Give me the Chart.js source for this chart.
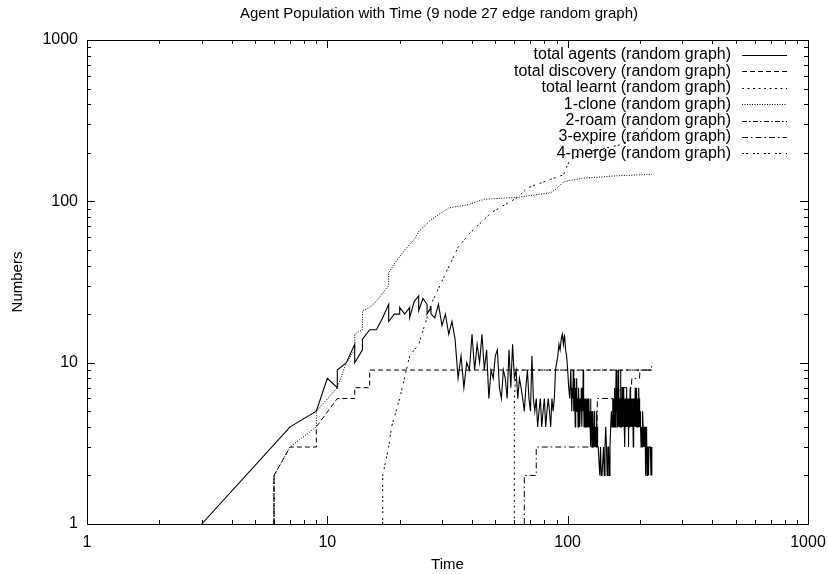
<!DOCTYPE html>
<html>
<head>
<meta charset="utf-8">
<script src="https://cdn.jsdelivr.net/npm/chart.js@4.4.1/dist/chart.umd.min.js"></script>
<style>
  html, body { margin: 0; padding: 0; background: #fff; }
  canvas { display: block; }
</style>
</head>
<body>
<canvas id="agentChart" width="827" height="574"></canvas>
<script>
// values (log-log, time vs numbers)
// total agents, in blocks (finer time steps where the trace is dense)
const agentEarlyT = [3, 7, 9, 10, 11, 11, 12, 13, 13, 14, 14, 15, 16, 17, 18, 18, 19, 20, 20, 21, 22, 22, 23, 24, 24, 25, 26, 26, 27, 27, 28, 29, 30, 31, 32, 33, 34];
const agentEarlyN = [1, 4, 5, 8, 7, 9, 10, 13, 10, 12, 14, 16, 16, 19, 23, 18, 20, 20, 22, 20, 22, 19, 24, 26, 21, 25, 23, 20, 22, 20, 19, 23, 17, 20, 15, 18, 14];

const agentMidT = [35, 36, 37, 38, 39, 40, 41, 42, 43, 44, 45, 46, 47, 48, 49, 50, 51, 52, 53, 54, 55, 56, 57, 58, 59, 60, 61, 62, 63, 64,
  65, 66, 67, 68, 69, 70, 71, 72, 73, 74, 75, 76, 77, 78, 79, 80, 81, 82, 83, 84, 85, 86, 87, 88, 89, 90, 91, 92, 93, 94,
  95, 96, 97, 98, 99, 100, 101, 102, 103];
const agentMidN = [8, 11, 7, 10, 9, 15, 9, 13, 10, 15, 9, 12, 6, 9, 8, 11, 12, 7, 6, 9, 8, 6, 12, 7, 13, 8, 9, 6, 8, 7,
  6, 5, 7, 9, 6, 5, 11, 6, 5, 6, 4, 5, 6, 4, 5, 6, 4, 5, 6, 5, 4, 6, 5, 6, 9, 10, 11, 13, 12, 14,
  15, 13, 15, 12, 11, 9, 7, 6, 9];

const agentLateT = [104, 104.5, 105, 105.5, 106, 106.5, 107, 107.5, 108, 108.5, 109, 109.5, 110, 110.5, 111, 111.5, 112, 112.5, 113, 113.5,
  114, 114.5, 115, 115.5, 116, 116.5, 117, 117.5, 118, 118.5, 119, 119.5, 120, 120.5, 121, 121.5, 122, 122.5, 123, 123.5,
  124, 124.5, 125, 125.5, 126, 126.5, 127, 127.5, 128, 128.5, 129, 129.5, 130, 130.5, 131, 131.5, 132, 132.5, 133, 133.5, 134,
  135, 136, 137, 138, 139, 140, 141, 142, 143, 144, 145, 146, 147, 148, 149, 150, 151, 152, 153, 154];
const agentLateN = [5, 7, 6, 9, 5, 8, 6, 4, 7, 5, 8, 5, 6, 4, 7, 5, 6, 4, 6, 5,
  7, 4, 6, 5, 9, 6, 4, 6, 5, 4, 6, 4, 5, 6, 4, 5, 4, 6, 4, 5,
  4, 6, 3, 5, 4, 3, 5, 3, 4, 3, 5, 3, 4, 3, 4, 3, 5, 3, 4, 3, 3,
  3, 2, 3, 2, 2, 2, 3, 2, 3, 4, 3, 2, 3, 3, 2, 3, 4, 5, 4, 6];

const agentEndT = [155, 155.5, 156, 156.5, 157, 157.5, 158, 158.5, 159, 159.5, 160, 160.5, 161, 161.5, 162, 162.5, 163, 163.5, 164, 164.5,
  165, 165.5, 166, 166.5, 167, 167.5, 168, 168.5, 169, 169.5, 170, 170.5, 171, 171.5, 172, 172.5, 173, 173.5, 174, 174.5,
  175, 175.5, 176, 176.5, 177, 177.5, 178, 178.5, 179, 179.5, 180, 180.5, 181, 181.5, 182, 182.5, 183, 183.5, 184, 184.5,
  185, 185.5, 186, 186.5, 187, 187.5, 188, 188.5, 189, 189.5, 190, 190.5, 191, 191.5, 192, 192.5, 193, 193.5, 194, 194.5,
  195, 195.5, 196, 196.5, 197, 197.5, 198, 198.5, 199, 199.5, 200,
  201, 202, 203, 204, 205, 206, 207, 208, 209, 210, 211, 212, 213, 214, 215, 216, 217, 218, 219, 220, 221, 222, 223, 224];
const agentEndN = [4, 6, 4, 5, 7, 4, 6, 5, 9, 5, 6, 4, 7, 5, 9, 6, 4, 7, 5, 4,
  6, 4, 9, 5, 4, 6, 4, 7, 5, 4, 6, 4, 5, 7, 4, 6, 3, 5, 4, 6,
  5, 4, 7, 4, 6, 5, 4, 6, 3, 5, 4, 6, 5, 4, 7, 4, 6, 5, 4, 6,
  4, 5, 6, 4, 5, 3, 6, 4, 5, 4, 6, 4, 7, 5, 4, 6, 4, 5, 7, 4,
  6, 4, 5, 4, 6, 4, 7, 5, 6, 4, 5,
  4, 3, 4, 3, 5, 4, 3, 4, 3, 4, 2, 3, 4, 2, 3, 3, 2, 3, 3, 3, 3, 2, 3, 2];

const agentT = [...agentEarlyT, ...agentMidT, ...agentLateT, ...agentEndT];
const agentN = [...agentEarlyN, ...agentMidN, ...agentLateN, ...agentEndN];

const discoveryT = [6, 6, 7, 9, 9, 11, 13, 13, 15, 15, 224];
const discoveryN = [1, 2, 3, 3, 4, 6, 6, 7, 7, 9, 9];

const learntT = [60, 60, 61, 224];
const learntN = [1, 6, 9, 9];

const cloneT = [6, 6, 7, 9, 9, 11, 12, 13, 13, 14, 14, 15, 16, 17, 18, 18, 19, 21, 23, 24, 27, 32, 38, 45, 62, 85, 90, 96, 115, 160, 224];
const cloneN = [1, 2, 3, 4, 5, 7, 10, 12, 15, 16, 21, 22, 24, 27, 30, 36, 41, 50, 58, 65, 77, 91, 95, 103, 106, 113, 120, 132, 139, 144, 147];

const roamT = [6, 6];
const roamN = [1, 2];

const expireT = [66, 66, 74, 74, 132, 133, 160, 165, 184, 185, 199, 200, 223, 224];
const expireN = [1, 2, 2, 3, 3, 6, 6, 7, 7, 8, 8, 9, 9, 10];

const mergeT = [17, 17, 18, 18.5, 20, 22, 24, 26, 27, 30, 35, 39, 48, 62, 68, 85, 96, 102, 115, 165, 194, 224];
const mergeN = [1, 2, 3, 4, 6, 11, 13, 19, 23, 32, 52, 63, 85, 106, 121, 137, 146, 180, 199, 224, 250, 298];

const seriesLabels = [
    "total agents (random graph)",
    "total discovery (random graph)",
    "total learnt (random graph)",
    "1-clone (random graph)",
    "2-roam (random graph)",
    "3-expire (random graph)",
    "4-merge (random graph)",
];

const axisTicks = [1, 10, 100, 1000];
const minorSteps = [2, 3, 4, 5, 6, 7, 8, 9];

const FONT = "'Liberation Sans', Arial, Helvetica, sans-serif";

const toPoints = (xs, ys) => xs.map((x, i) => ({ x: x, y: ys[i] }));

const series = [
    { t: agentT, n: agentN, dash: [] },
    { t: discoveryT, n: discoveryN, dash: [5, 3] },
    { t: learntT, n: learntN, dash: [2, 3.5] },
    { t: cloneT, n: cloneN, dash: [1, 1.5] },
    { t: roamT, n: roamN, dash: [5, 2, 1.5, 2.5] },
    { t: expireT, n: expireN, dash: [6, 3, 1.5, 3] },
    { t: mergeT, n: mergeN, dash: [2, 2, 2, 5] },
];

// frame, inward ticks, title, axis titles and the key, gnuplot style
const gnuplotDecor = {
    id: "gnuplotDecor",
    afterDatasetsDraw(chart) {
        const ctx = chart.ctx;
        const a = chart.chartArea;
        const xs = chart.scales.x;
        const ys = chart.scales.y;
        ctx.save();
        ctx.strokeStyle = "#000";
        ctx.lineWidth = 1;
        ctx.setLineDash([]);

        ctx.strokeRect(Math.round(a.left) + 0.5, Math.round(a.top) + 0.5,
            Math.round(a.right - a.left), Math.round(a.bottom - a.top));

        const tickValues = [];
        axisTicks.forEach((d, i) => {
            tickValues.push({ v: d, major: true });
            if (i < axisTicks.length - 1) minorSteps.forEach((k) => tickValues.push({ v: d * k, major: false }));
        });

        ctx.beginPath();
        tickValues.forEach(({ v, major }) => {
            const len = major ? 8 : 4;
            const px = Math.round(xs.getPixelForValue(v)) + 0.5;
            ctx.moveTo(px, a.bottom); ctx.lineTo(px, a.bottom - len);
            ctx.moveTo(px, a.top); ctx.lineTo(px, a.top + len);
            const py = Math.round(ys.getPixelForValue(v)) + 0.5;
            ctx.moveTo(a.left, py); ctx.lineTo(a.left + len, py);
            ctx.moveTo(a.right, py); ctx.lineTo(a.right - len, py);
        });
        ctx.stroke();

        ctx.fillStyle = "#000";
        ctx.font = "15px " + FONT;
        ctx.textAlign = "center";
        ctx.textBaseline = "middle";
        ctx.fillText("Agent Population with Time (9 node 27 edge random graph)", 439, 14);
        ctx.fillText("Time", (a.left + a.right) / 2, 565);

        ctx.save();
        ctx.translate(18, (a.top + a.bottom) / 2);
        ctx.rotate(-Math.PI / 2);
        ctx.fillText("Numbers", 0, 0);
        ctx.restore();

        // key, top right inside the frame
        ctx.font = "16px " + FONT;
        ctx.textAlign = "right";
        chart.data.datasets.forEach((ds, i) => {
            const y = a.top + 15 + i * 16.4;
            ctx.fillText(ds.label, a.right - 77, y);
            ctx.beginPath();
            ctx.setLineDash(ds.borderDash);
            ctx.moveTo(a.right - 66, Math.round(y) + 0.5);
            ctx.lineTo(a.right - 21, Math.round(y) + 0.5);
            ctx.stroke();
        });
        ctx.restore();
    },
};

const tickFont = { family: FONT, size: 16 };

new Chart(document.getElementById("agentChart"), {
    type: "line",
    data: {
        datasets: series.map((s, i) => ({
            label: seriesLabels[i],
            data: toPoints(s.t, s.n),
            borderColor: "#000",
            borderWidth: i === 0 ? 1.1 : 1,
            borderDash: s.dash,
            pointRadius: 0,
            tension: 0,
            fill: false,
        })),
    },
    options: {
        responsive: false,
        animation: false,
        devicePixelRatio: 1,
        layout: { padding: { top: 40, right: 19, left: 0, bottom: 0 } },
        plugins: {
            legend: { display: false },
            title: { display: false },
            tooltip: { enabled: false },
        },
        scales: {
            x: {
                type: "logarithmic",
                min: 1,
                max: 1000,
                grid: { display: false, drawTicks: false },
                border: { display: false },
                ticks: { color: "#000", font: tickFont, padding: 9, maxRotation: 0, autoSkip: false, callback: (v) => String(v) },
                afterBuildTicks: (s) => { s.ticks = axisTicks.map((v) => ({ value: v })); },
                afterFit: (s) => { s.height = 50; s.paddingLeft = 0; s.paddingRight = 0; },
            },
            y: {
                type: "logarithmic",
                min: 1,
                max: 1000,
                grid: { display: false, drawTicks: false },
                border: { display: false },
                ticks: { color: "#000", font: tickFont, padding: 9, autoSkip: false, callback: (v) => String(v) },
                afterBuildTicks: (s) => { s.ticks = axisTicks.map((v) => ({ value: v })); },
                afterFit: (s) => { s.width = 87; s.paddingTop = 0; s.paddingBottom = 0; },
            },
        },
    },
    plugins: [gnuplotDecor],
});
</script>
</body>
</html>
